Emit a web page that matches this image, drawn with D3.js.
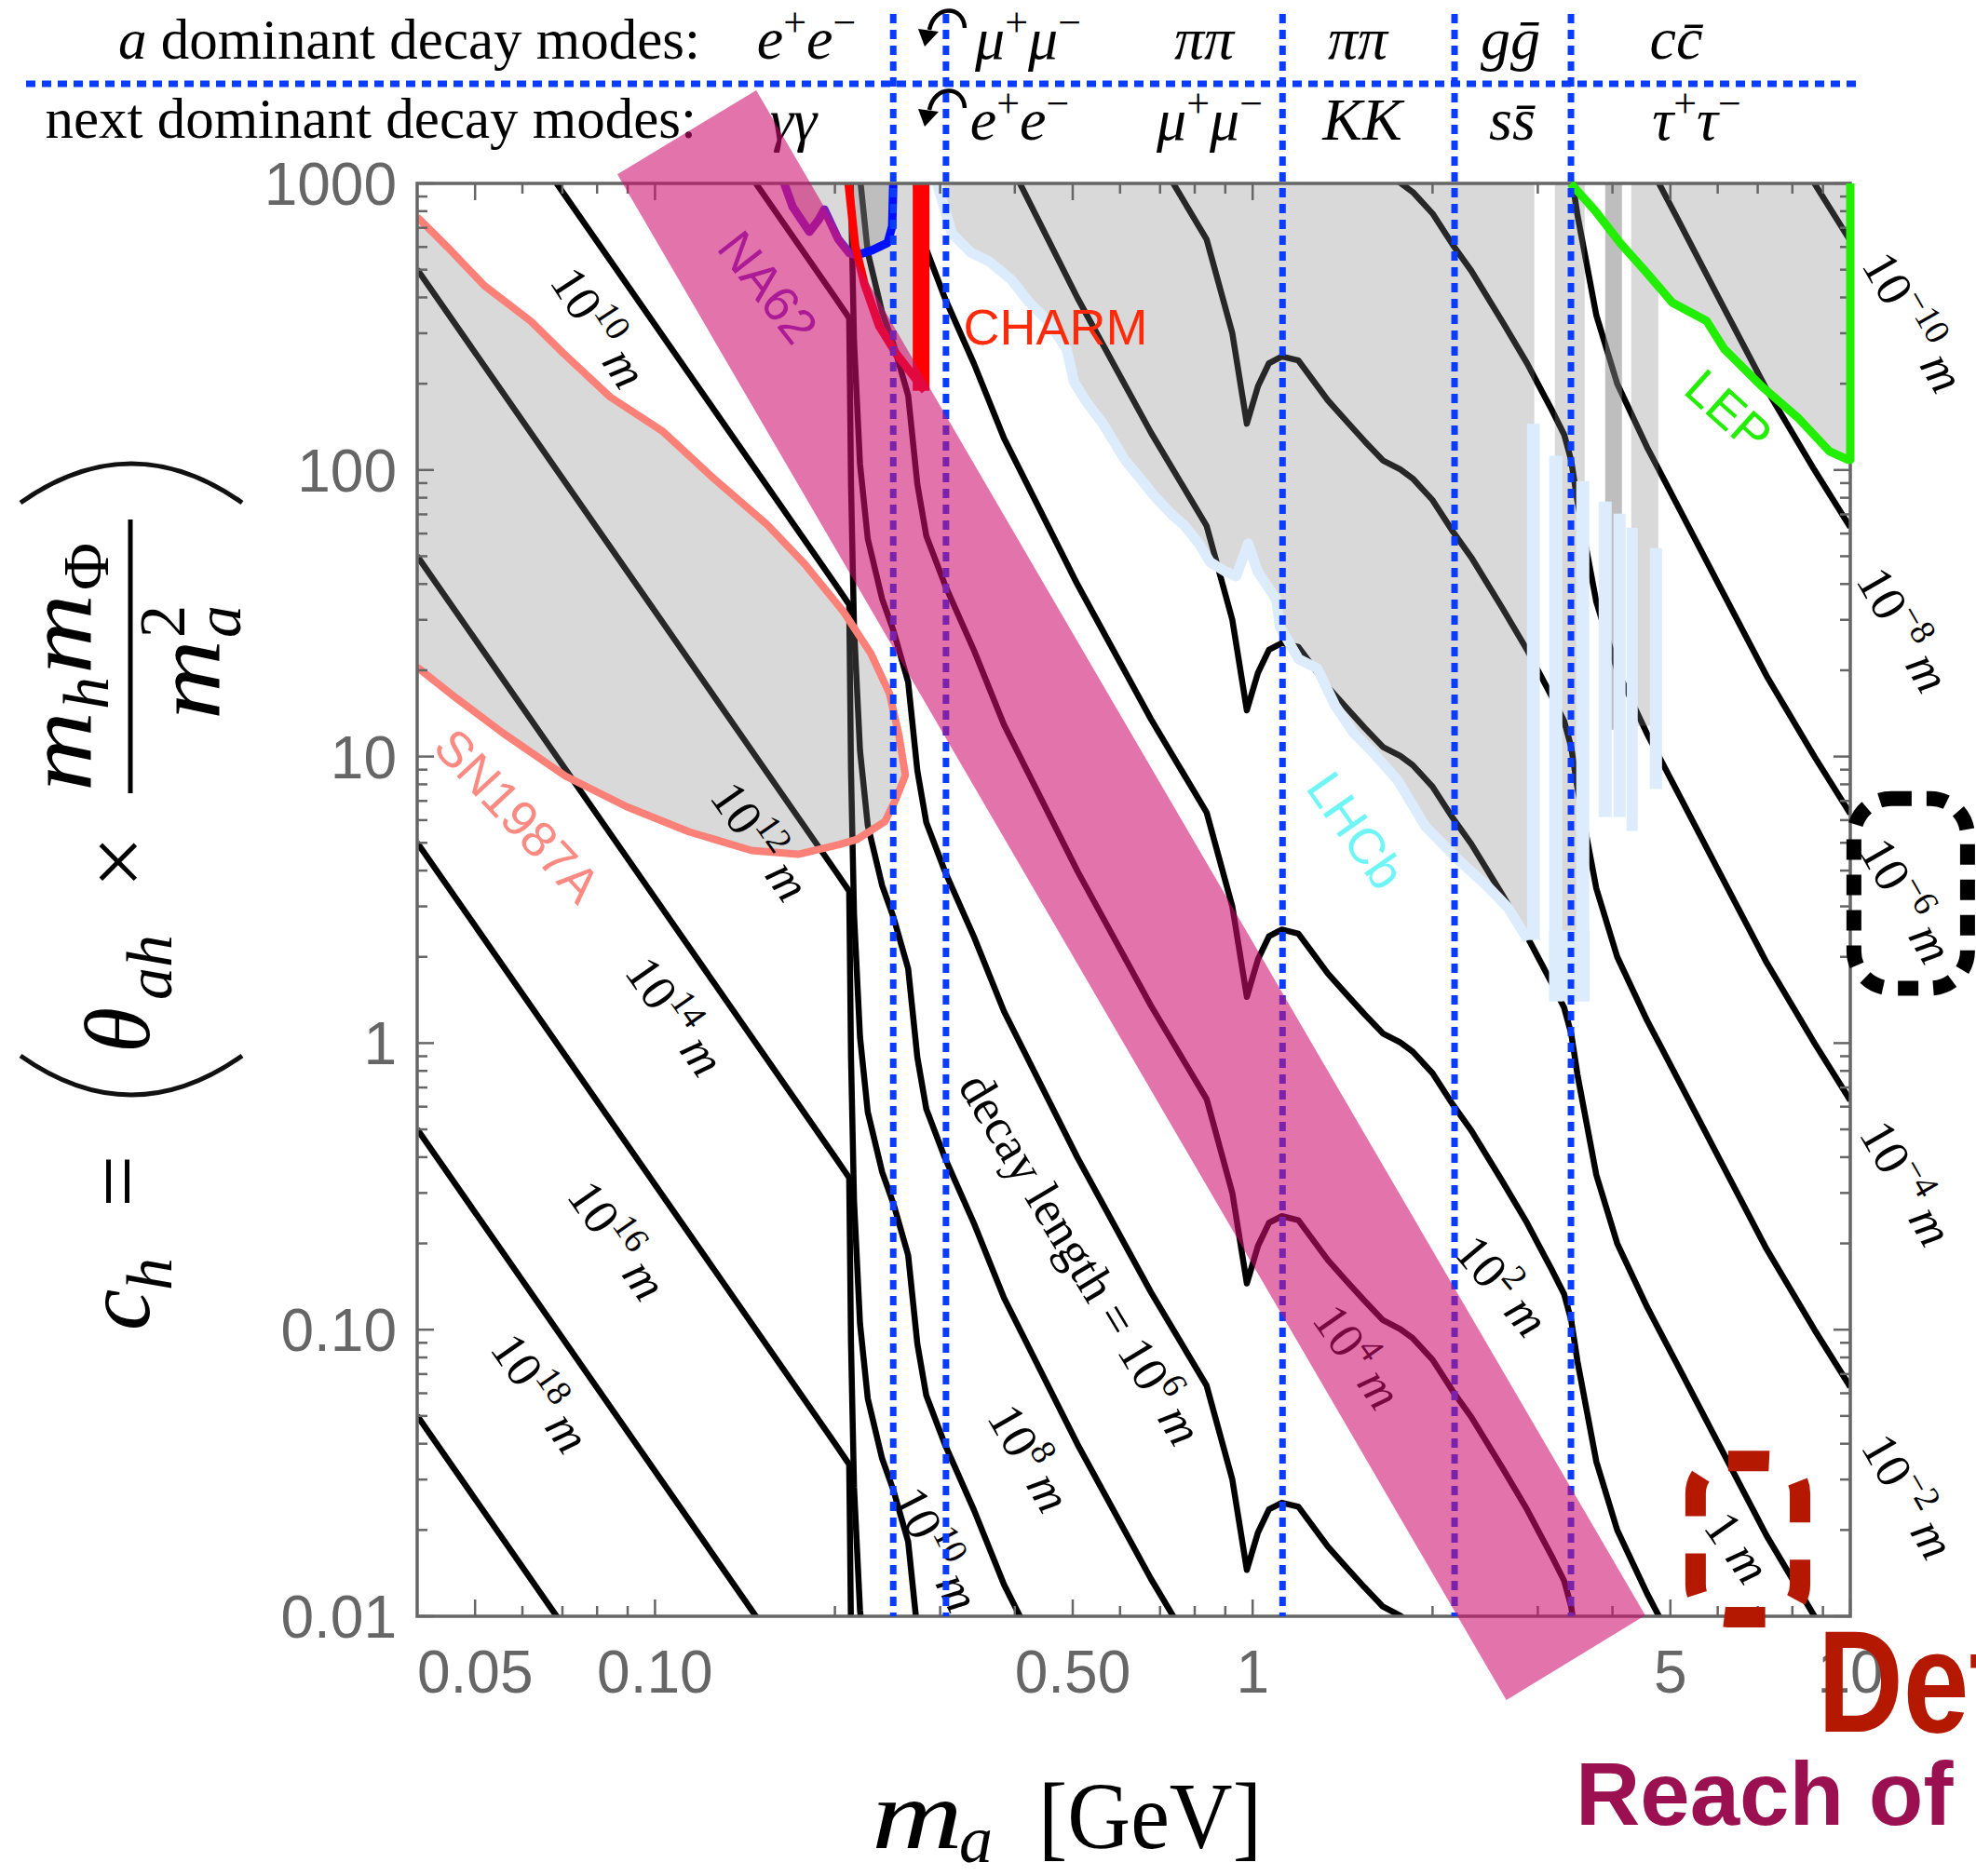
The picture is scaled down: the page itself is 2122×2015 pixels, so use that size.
<!DOCTYPE html>
<html>
<head>
<meta charset="utf-8">
<script src="https://cdn.jsdelivr.net/npm/d3@7"></script>
<style>
  body { margin: 0; background: #fff; }
  svg { display: block; }
</style>
</head>
<body>
<div id="chart"></div>
<script>
// ---------------- data ----------------
const xTickValues = [0.05, 0.1, 0.5, 1, 5, 10];
const xTickLabels = ['0.05', '0.10', '0.50', '1', '5', '10'];
const yTickValues = [0.01, 0.1, 1, 10, 100, 1000];
const yTickLabels = ['0.01', '0.10', '1', '10', '100', '1000'];

// contour of decay length = 10^-2 m (m_a in GeV, c_h)
const refMass = [0.0400, 0.1000, 0.2000, 0.2113, 0.2128, 0.2153, 0.2203, 0.2270, 0.2399, 0.2506,
  0.2652, 0.2748, 0.2844, 0.3055, 0.3420, 0.3837, 0.5093, 0.6761, 0.8375, 0.9247,
  0.9779, 1.0207, 1.0651, 1.1192, 1.1929, 1.3360, 1.4355, 1.5395, 1.6520, 1.7660,
  1.8535, 2.0000, 2.1627, 2.3227, 2.6182, 2.8774, 3.0200, 3.1660, 3.3204, 3.4119,
  3.4954, 3.7584, 4.0738, 4.5709, 5.1286, 6.0256, 7.2444, 8.7096, 10.0];
const refCh = [5.01e9, 3.21e8, 4.01e7, 3.39e7, 8.91e6, 2.82e6, 1.05e6, 5.75e5, 3.55e5, 2.75e5,
  1.82e5, 8.91e4, 5.89e4, 3.98e4, 2.34e4, 1.29e4, 3981, 1349, 638, 300,
  145, 196, 236, 249, 241, 175, 148, 126, 108, 100.5,
  93.3, 78.5, 61.0, 49.5, 32.9, 23.6, 19.5, 16.2, 13.3, 10.8,
  7.76, 3.47, 2.00, 1.20, 0.759, 0.398, 0.191, 0.100, 0.0631];
// decay lengths drawn, 10^e m (L ~ 1/c_h^2: a factor 100 in L is one decade in c_h)
const contourExp = [-10, -8, -6, -4, -2, 0, 2, 4, 6, 8, 10, 12, 14, 16, 18, 20];

// contour labels
const labelExp = [10, 12, 14, 16, 18, 10, 8, 6, 4, 2, 0, -10, -8, -6, -4, -2];
const labelPrefix = ['', '', '', '', '', '', '', 'decay length = ', '', '', '', '', '', '', '', ''];
const labelMass = [0.0805, 0.150, 0.108, 0.0865, 0.0643, 0.2954, 0.4229, 0.5153, 1.497, 2.611, 6.475, 12.75, 12.27, 12.41, 12.41, 12.50];
const labelCh = [314, 5.06, 1.24, 0.205, 0.0601, 0.01714, 0.0356, 0.1766, 0.0805, 0.1422, 0.01738, 328, 27.7, 3.14, 0.324, 0.0262];
const labelAngle = [57, 55, 55, 55, 55, 63, 60, 59, 55, 50, 55, 60, 60, 60, 60, 60];

// SN1987A excluded region
const snMass = [0.0400, 0.0449, 0.0518, 0.0620, 0.0703, 0.0841, 0.1032, 0.1253, 0.1542, 0.1780,
  0.2070, 0.2297, 0.2468, 0.2559, 0.2624, 0.2532, 0.2425, 0.2178, 0.2026, 0.1736,
  0.1451, 0.1141, 0.0897, 0.0708, 0.0556, 0.0465, 0.0400];
const snCh = [764, 601, 440, 330, 255, 180, 136, 93.5, 64.3, 47.0,
  31.9, 22.9, 16.6, 11.9, 8.61, 7.14, 5.93, 5.14, 4.92, 4.56,
  4.70, 5.46, 6.68, 8.55, 12.1, 16.0, 20.5];

// NA62 (purple part, blue part)
const na62Mass = [0.1645, 0.1699, 0.1813, 0.1879, 0.1920, 0.2026, 0.2115, 0.2178];
const na62Ch = [1000, 829, 678, 747, 811, 639, 571, 562];
const na62BlueMass = [0.2178, 0.2306, 0.2450, 0.2494, 0.2504];
const na62BlueCh = [562, 584, 620, 709, 1000];

// CHARM
const charmMass = [0.2108, 0.2162, 0.2241, 0.2372, 0.2532, 0.2700, 0.2829];
const charmCh = [1000, 606, 446, 318, 255, 214, 189];
const charmBarMass = 0.2788;
const charmBarCh = [189, 1000];

// LHCb boundary
const lhcbMass = [0.2965, 0.3140, 0.3374, 0.3625, 0.3952, 0.4229, 0.4545, 0.4884, 0.5025, 0.5248,
  0.5617, 0.6120, 0.6484, 0.6866, 0.7353, 0.7674, 0.8130, 0.8487, 0.8990, 0.9385,
  0.9833, 1.0193, 1.0952, 1.1110, 1.1937, 1.2825, 1.3733, 1.4753, 1.5852, 1.7467,
  1.9454, 2.1900, 2.4660, 2.6784, 2.8877];
const lhcbCh = [1000, 668, 575, 534, 460, 384, 331, 264, 203, 175,
  145, 108, 93.5, 80.5, 69.3, 64.3, 55.4, 47.7, 44.3, 42.6,
  55.4, 44.3, 35.4, 28.3, 21.9, 20.3, 15.1, 12.1, 10.4, 8.29,
  5.71, 4.43, 3.54, 2.96, 2.29];
const lhcbShadeEdge = 2.960;
// LHCb narrow windows near 3-5 GeV
const spikeMassLo = [2.877, 3.135, 3.479, 3.793, 4.016, 4.223, 4.620, 3.135];
const spikeMassHi = [3.024, 3.298, 3.659, 3.988, 4.208, 4.409, 4.842, 3.659];
const spikeChLo = [2.29, 1.40, 1.40, 6.15, 6.15, 5.50, 7.70, 1.40];
const spikeChHi = [145, 112, 91.4, 77.6, 70.4, 62.9, 53.4, 2.47];

// shaded columns near 3-5 GeV
const colMassLo = [3.203, 3.890, 4.300];
const colMassHi = [3.594, 4.148, 4.772];
const colChLo = [1.75, 12.4, 12.8];
const colLayers = [1, 2, 1];

// LEP
const lepMass = [3.405, 3.738, 4.120, 4.522, 5.035, 5.751, 6.157, 7.108, 8.204, 9.237, 9.922, 10.0, 10.0];
const lepCh = [1000, 805, 620, 499, 384, 331, 264, 196, 151, 116, 108.6, 108.6, 1000];
const lepShadeStart = [4.772, 439];

// region labels
const regionText = ['SN1987A', 'NA62', 'CHARM', 'LHCb', 'LEP'];
const regionMass = [0.0587, 0.1542, 0.3279, 1.486, 6.248];
const regionCh = [6.20, 433, 274, 5.50, 160];
const regionAngle = [47, 52, 0, 55, 42];
const regionColor = ['#fb8a82', '#7a2ccb', '#ff2a0a', '#6ff5f5', '#22ee00'];

// channel thresholds (blue dotted), GeV
const thresholdMass = [0.2504, 0.3068, 1.122, 2.177, 3.409];

// decay modes
const modesTop = [
  [{t: 'e', i: 1}, {t: '+', s: 1}, {t: 'e', i: 1}, {t: '\u2212', s: 1}],
  [{t: '\u03bc', i: 1}, {t: '+', s: 1}, {t: '\u03bc', i: 1}, {t: '\u2212', s: 1}],
  [{t: '\u03c0\u03c0', i: 1}],
  [{t: '\u03c0\u03c0', i: 1}],
  [{t: 'g\u1e21', i: 1}],
  [{t: 'cc\u0304', i: 1}]
];
const modesBottom = [
  [{t: '\u03b3\u03b3', i: 1}],
  [{t: 'e', i: 1}, {t: '+', s: 1}, {t: 'e', i: 1}, {t: '\u2212', s: 1}],
  [{t: '\u03bc', i: 1}, {t: '+', s: 1}, {t: '\u03bc', i: 1}, {t: '\u2212', s: 1}],
  [{t: 'KK', i: 1}],
  [{t: 'ss\u0304', i: 1}],
  [{t: '\u03c4', i: 1}, {t: '+', s: 1}, {t: '\u03c4', i: 1}, {t: '\u2212', s: 1}]
];

// reach band corners
const bandMass = [0.0865, 0.1477, 4.539, 2.658];
const bandCh = [1076, 2113, 0.01007, 0.0051];

// annotation boxes
const blackBox = {m0: 10.14, m1: 15.71, c0: 1.555, c1: 7.14};
const redBox = {m0: 5.51, m1: 8.24, c0: 0.00993, c1: 0.0348};

// ---------------- drawing ----------------
const W = 2122, H = 2015;
const serif = '"Liberation Serif", "DejaVu Serif", serif';
const sans = '"Liberation Sans", Arial, sans-serif';
const grayFill = 'rgba(128,128,128,0.3)';

const svg = d3.select('#chart').append('svg')
  .attr('width', W).attr('height', H);

const x = d3.scaleLog().domain([0.04, 10]).range([448, 1987]);
const y = d3.scaleLog().domain([0.01, 1000]).range([1736, 197]);

svg.append('defs').append('clipPath').attr('id', 'plotClip')
  .append('rect').attr('x', 448).attr('y', 197).attr('width', 1539).attr('height', 1539);

const line = d3.line().x(d => x(d[0])).y(d => y(d[1]));
const pts = (ms, cs) => ms.map((m, i) => [m, cs[i]]);

const plot = svg.append('g').attr('clip-path', 'url(#plotClip)');

// decay length contours
contourExp.forEach(e => {
  const shift = Math.pow(10, -(e + 2) / 2);
  plot.append('path')
    .attr('d', line(refMass.map((m, i) => [m, refCh[i] * shift])))
    .attr('fill', 'none')
    .attr('stroke', '#000')
    .attr('stroke-width', 6.5)
    .attr('stroke-linejoin', 'round');
});

// contour labels
const labels = svg.append('g').attr('font-family', serif).attr('fill', '#000');
labelExp.forEach((e, i) => {
  const g = labels.append('g')
    .attr('transform', `translate(${x(labelMass[i])},${y(labelCh[i])}) rotate(${labelAngle[i]})`);
  const t = g.append('text').attr('text-anchor', 'middle').attr('y', 18).attr('font-size', 54);
  if (labelPrefix[i]) t.append('tspan').text(labelPrefix[i]);
  if (e === 0) {
    t.append('tspan').text('1 ');
  } else {
    t.append('tspan').text('10');
    t.append('tspan').attr('font-size', 38).attr('dy', -22).text(e < 0 ? '\u2212' + (-e) : e);
    t.append('tspan').attr('dy', 22).text('\u2009');
  }
  t.append('tspan').attr('font-style', 'italic').text('m');
});

// shaded exclusions
plot.append('path').attr('d', line(pts(snMass, snCh)) + 'Z').attr('fill', grayFill);
plot.append('path')
  .attr('d', line(pts(na62Mass, na62Ch).concat(pts(na62BlueMass, na62BlueCh))) + 'Z')
  .attr('fill', grayFill);
plot.append('path')
  .attr('d', line(pts(charmMass, charmCh).concat([[charmBarMass, 1000]])) + 'Z')
  .attr('fill', grayFill);
plot.append('path')
  .attr('d', line(pts(lhcbMass, lhcbCh).concat([[lhcbShadeEdge, lhcbCh[lhcbCh.length - 1]], [lhcbShadeEdge, 1000]])) + 'Z')
  .attr('fill', grayFill);
colMassLo.forEach((lo, i) => {
  for (let k = 0; k < colLayers[i]; k++) {
    plot.append('rect')
      .attr('x', x(lo)).attr('y', y(1000))
      .attr('width', x(colMassHi[i]) - x(lo))
      .attr('height', y(colChLo[i]) - y(1000))
      .attr('fill', grayFill);
  }
});
const lepShade = [[lepShadeStart[0], 1000], lepShadeStart]
  .concat(pts(lepMass, lepCh).filter(p => p[0] > lepShadeStart[0]));
plot.append('path').attr('d', line(lepShade) + 'Z').attr('fill', grayFill);

// LHCb boundary and windows
plot.append('path').attr('d', line(pts(lhcbMass, lhcbCh)))
  .attr('fill', 'none').attr('stroke', '#dcecfc').attr('stroke-width', 11).attr('stroke-linejoin', 'round');
spikeMassLo.forEach((lo, i) => {
  plot.append('rect')
    .attr('x', x(lo)).attr('y', y(spikeChHi[i]))
    .attr('width', x(spikeMassHi[i]) - x(lo))
    .attr('height', y(spikeChLo[i]) - y(spikeChHi[i]))
    .attr('fill', '#dcecfc');
});

// frame and ticks
const axisColor = '#666';
const frame = svg.append('g').attr('stroke', axisColor);
frame.append('rect').attr('x', 448).attr('y', 197).attr('width', 1539).attr('height', 1539)
  .attr('fill', 'none').attr('stroke-width', 3.5);
const yMinor = [];
for (let d = -2; d < 3; d++) for (let k = 2; k < 10; k++) yMinor.push(k * Math.pow(10, d));
const xMinor = [];
for (let d = -2; d < 1; d++) for (let k = 1; k < 10; k++) {
  const v = k * Math.pow(10, d);
  if (v > 0.0401 && v < 10 && !xTickValues.some(t => Math.abs(t - v) < 1e-9)) xMinor.push(v);
}
const tick = (x1, y1, x2, y2) => frame.append('line')
  .attr('x1', x1).attr('y1', y1).attr('x2', x2).attr('y2', y2).attr('stroke-width', 2.5);
yTickValues.concat(yMinor).forEach(v => {
  const len = yTickValues.includes(v) ? 18 : 11;
  tick(448, y(v), 448 + len, y(v));
  tick(1987, y(v), 1987 - len, y(v));
});
xTickValues.concat(xMinor).forEach(v => {
  const len = xTickValues.includes(v) ? 18 : 11;
  tick(x(v), 1736, x(v), 1736 - len);
  tick(x(v), 197, x(v), 197 + len);
});

// region boundaries
plot.append('path').attr('d', line(pts(snMass, snCh)))
  .attr('fill', 'none').attr('stroke', '#fa8078').attr('stroke-width', 8).attr('stroke-linejoin', 'round');
plot.append('path').attr('d', line(pts(na62Mass, na62Ch)))
  .attr('fill', 'none').attr('stroke', '#7a1fc2').attr('stroke-width', 9).attr('stroke-linejoin', 'round');
plot.append('path').attr('d', line(pts(na62BlueMass, na62BlueCh)))
  .attr('fill', 'none').attr('stroke', '#0010ff').attr('stroke-width', 9).attr('stroke-linejoin', 'round');
plot.append('path').attr('d', line(pts(charmMass, charmCh)))
  .attr('fill', 'none').attr('stroke', '#ff0000').attr('stroke-width', 9).attr('stroke-linejoin', 'round');
plot.append('path').attr('d', line(charmBarCh.map(c => [charmBarMass, c])))
  .attr('fill', 'none').attr('stroke', '#ff0000').attr('stroke-width', 18);
svg.append('path').attr('d', line(pts(lepMass, lepCh)))
  .attr('fill', 'none').attr('stroke', '#22ee00').attr('stroke-width', 9).attr('stroke-linejoin', 'round');

// region labels
regionText.forEach((txt, i) => {
  const g = svg.append('g')
    .attr('transform', `translate(${x(regionMass[i])},${y(regionCh[i])}) rotate(${regionAngle[i]})`);
  g.append('text')
    .attr('text-anchor', regionAngle[i] === 0 ? 'start' : 'middle')
    .attr('y', regionAngle[i] === 0 ? 0 : 18)
    .attr('font-family', sans).attr('font-size', 54)
    .attr('fill', regionColor[i]).text(txt);
});

// channel boundaries
const dotted = svg.append('g').attr('stroke', '#0a3cff').attr('stroke-width', 7).attr('stroke-dasharray', '10,7');
thresholdMass.forEach(m => {
  dotted.append('line').attr('x1', x(m)).attr('x2', x(m)).attr('y1', 15).attr('y2', y(0.01));
});
dotted.append('line').attr('x1', 28).attr('x2', 1995).attr('y1', 90).attr('y2', 90);

// tick labels
const tl = svg.append('g').attr('font-family', sans).attr('font-size', 64).attr('fill', axisColor);
yTickValues.forEach((v, i) => {
  tl.append('text').attr('x', 426).attr('y', y(v) + 23).attr('text-anchor', 'end').text(yTickLabels[i]);
});
xTickValues.forEach((v, i) => {
  tl.append('text').attr('x', x(v)).attr('y', 1818).attr('text-anchor', 'middle').text(xTickLabels[i]);
});

// x title
const xt = svg.append('g').attr('font-family', serif).attr('fill', '#000');
xt.append('text').attr('x', 936).attr('y', 1985).attr('font-size', 106).attr('font-style', 'italic')
  .attr('textLength', 98).attr('lengthAdjust', 'spacingAndGlyphs').text('m');
xt.append('text').attr('x', 1030).attr('y', 2000).attr('font-size', 72).attr('font-style', 'italic').text('a');
xt.append('text').attr('x', 1115).attr('y', 1985).attr('font-size', 102)
  .attr('textLength', 240).attr('lengthAdjust', 'spacingAndGlyphs').text('[GeV]');

// y title (rotated)
const yt = svg.append('g').attr('transform', 'rotate(-90)').attr('font-family', serif).attr('fill', '#000');
const yTxt = (lx, ly, size, str, italic, len) => {
  const t = yt.append('text').attr('x', lx).attr('y', ly)
    .attr('font-size', size).attr('font-style', italic ? 'italic' : 'normal').text(str);
  if (len) t.attr('textLength', len).attr('lengthAdjust', 'spacingAndGlyphs');
  return t;
};
yTxt(-1429, 160, 100, 'c', 1);
yTxt(-1386, 184, 70, 'h', 1);
yTxt(-1297, 160, 100, '=', 0);
yTxt(-1131, 160, 100, '\u03b8', 1);
yTxt(-1074, 184, 70, 'ah', 1);
yTxt(-954, 160, 100, '\u00d7', 0);
yTxt(-850, 97, 100, 'm', 1, 86);
yTxt(-762, 116, 70, 'h', 1);
yTxt(-724, 97, 100, 'm', 1, 86);
yTxt(-634, 116, 70, '\u03a6', 0);
yTxt(-773, 235, 100, 'm', 1, 86);
yTxt(-685, 258, 70, 'a', 1);
yTxt(-685, 198, 70, '2', 0);
yt.append('line').attr('x1', -852).attr('x2', -558).attr('y1', 140).attr('y2', 140)
  .attr('stroke', '#000').attr('stroke-width', 5);
yt.append('path').attr('d', 'M-1134,22 Q-1218,141 -1134,260').attr('fill', 'none').attr('stroke', '#111').attr('stroke-width', 5);
yt.append('path').attr('d', 'M-540,22 Q-456,141 -540,260').attr('fill', 'none').attr('stroke', '#111').attr('stroke-width', 5);

// decay mode header
const head = svg.append('g').attr('font-family', serif).attr('font-size', 61).attr('fill', '#000');
const h1 = head.append('text').attr('x', 752).attr('y', 63).attr('text-anchor', 'end');
h1.append('tspan').attr('font-style', 'italic').text('a');
h1.append('tspan').text(' dominant decay modes:');
head.append('text').attr('x', 748).attr('y', 148).attr('text-anchor', 'end').text('next dominant decay modes:');

function modeItem(xc, yb, parts) {
  const t = head.append('text').attr('x', xc).attr('y', yb).attr('text-anchor', 'middle').attr('font-size', 64);
  let raised = false;
  parts.forEach(p => {
    const s = t.append('tspan').text(p.t);
    if (p.i) s.attr('font-style', 'italic');
    if (p.s) {
      s.attr('font-size', 44).attr('font-style', 'normal');
      if (!raised) s.attr('dy', -24);
      raised = true;
    } else if (raised) {
      s.attr('dy', 24);
      raised = false;
    }
  });
}
const topX = [866, 1104, 1293, 1458, 1622, 1800];
const botX = [852, 1095, 1299, 1463, 1624, 1822];
modesTop.forEach((p, i) => modeItem(topX[i], 63, p));
modesBottom.forEach((p, i) => modeItem(botX[i], 150, p));

// curved arrows before the muon / electron entries
[0, 86].forEach(dy => {
  const g = head.append('g').attr('transform', `translate(0,${dy})`);
  g.append('path').attr('d', 'M1036,30 C1035,6 1004,4 998,32')
    .attr('fill', 'none').attr('stroke', '#000').attr('stroke-width', 4.5);
  g.append('path').attr('d', 'M993,50 L986,31 L1008,34 Z').attr('fill', '#000');
});

// reach band
svg.append('path').attr('d', line(pts(bandMass, bandCh)) + 'Z')
  .attr('fill', 'rgb(205,15,110)').attr('fill-opacity', 0.58);

// annotation overlays
svg.append('rect')
  .attr('x', x(blackBox.m0)).attr('y', y(blackBox.c1))
  .attr('width', x(blackBox.m1) - x(blackBox.m0)).attr('height', y(blackBox.c0) - y(blackBox.c1))
  .attr('rx', 40).attr('fill', 'none').attr('stroke', '#000').attr('stroke-width', 16)
  .attr('stroke-dasharray', '22,16');
svg.append('rect')
  .attr('x', x(redBox.m0)).attr('y', y(redBox.c1))
  .attr('width', x(redBox.m1) - x(redBox.m0)).attr('height', y(redBox.c0) - y(redBox.c1))
  .attr('rx', 35).attr('fill', 'none').attr('stroke', '#b41900').attr('stroke-width', 22)
  .attr('stroke-dasharray', '44,40');
svg.append('text').attr('x', 1952).attr('y', 1860)
  .attr('font-family', sans).attr('font-weight', 'bold').attr('font-size', 155)
  .attr('textLength', 205).attr('lengthAdjust', 'spacingAndGlyphs')
  .attr('fill', '#b41900').text('Det');
svg.append('text').attr('x', 1692).attr('y', 1960)
  .attr('font-family', sans).attr('font-weight', 'bold').attr('font-size', 96)
  .attr('fill', '#9b1050').text('Reach of');
</script>
</body>
</html>
